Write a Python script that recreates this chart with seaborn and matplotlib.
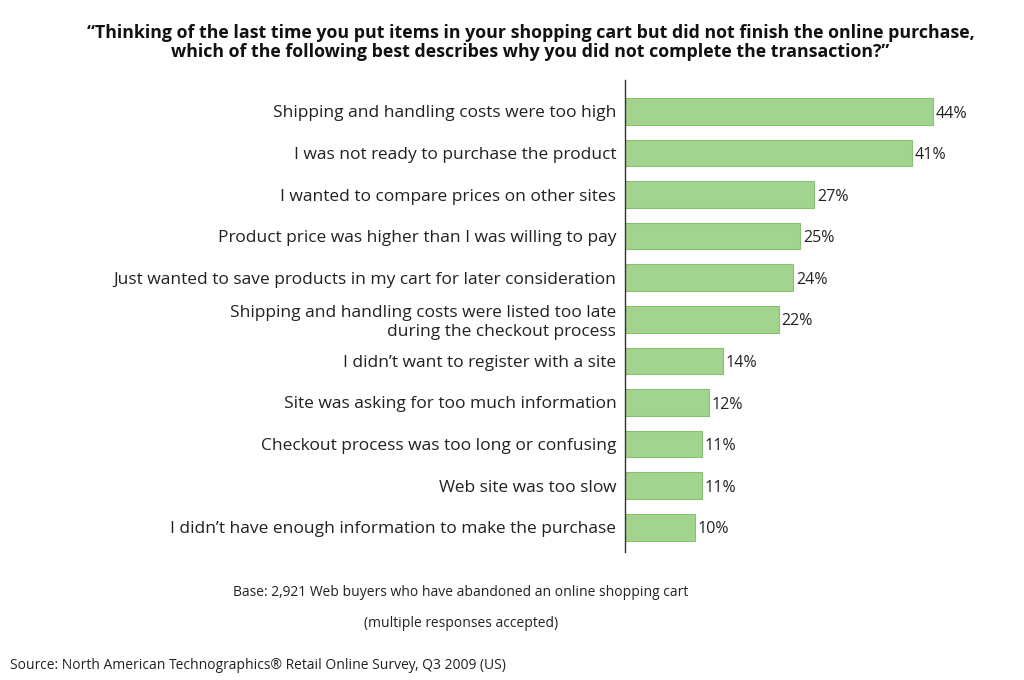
import matplotlib
matplotlib.use("Agg")
import matplotlib.pyplot as plt
import seaborn as sns
import pandas as pd

reasons = [
    "Shipping and handling costs were too high",
    "I was not ready to purchase the product",
    "I wanted to compare prices on other sites",
    "Product price was higher than I was willing to pay",
    "Just wanted to save products in my cart for later consideration",
    "Shipping and handling costs were listed too late\nduring the checkout process",
    "I didn\u2019t want to register with a site",
    "Site was asking for too much information",
    "Checkout process was too long or confusing",
    "Web site was too slow",
    "I didn\u2019t have enough information to make the purchase",
]
percents = [44, 41, 27, 25, 24, 22, 14, 12, 11, 11, 10]

df = pd.DataFrame({"reason": reasons, "pct": percents})

plt.rcParams["font.family"] = "Open Sans"
fig = plt.figure(figsize=(10.24, 6.8), dpi=100)
ax = fig.add_axes([0.610, 0.188, 0.363, 0.694])
sns.barplot(data=df, x="pct", y="reason", ax=ax, color="#a3d48f",
            edgecolor="#86c272", linewidth=0.8, width=0.64, saturation=1)
ax.set_xlim(0, 53)
ax.set_ylim(len(reasons) - 0.4, -0.75)
for i, v in enumerate(percents):
    ax.text(v + 0.4, i + 0.05, f"{v}%", va="center", ha="left", fontsize=11.5, color="#222222")
ax.set_xlabel("")
ax.set_ylabel("")
ax.set_xticks([])
ax.tick_params(axis="y", length=0, pad=6, labelsize=12.5, labelcolor="#222222")
for s in ["top", "right", "bottom"]:
    ax.spines[s].set_visible(False)
ax.spines["left"].set_color("#333333")
ax.spines["left"].set_linewidth(1.0)
for lbl in ax.get_yticklabels():
    lbl.set_horizontalalignment("right")
    lbl.set_multialignment("right")

fig.text(0.518, 0.965,
         "\u201cThinking of the last time you put items in your shopping cart but did not finish the online purchase,\n"
         "which of the following best describes why you did not complete the transaction?\u201d",
         ha="center", va="top", fontsize=12.8, fontweight="bold", linespacing=1.05, color="#111111")
fig.text(0.45, 0.128, "Base: 2,921 Web buyers who have abandoned an online shopping cart",
         ha="center", va="center", fontsize=10, color="#222222")
fig.text(0.45, 0.083, "(multiple responses accepted)",
         ha="center", va="center", fontsize=10, color="#222222")
fig.text(0.01, 0.021, "Source: North American Technographics\u00ae Retail Online Survey, Q3 2009 (US)",
         ha="left", va="center", fontsize=10, color="#222222")
fig.savefig("out.png", dpi=100, facecolor="white")
